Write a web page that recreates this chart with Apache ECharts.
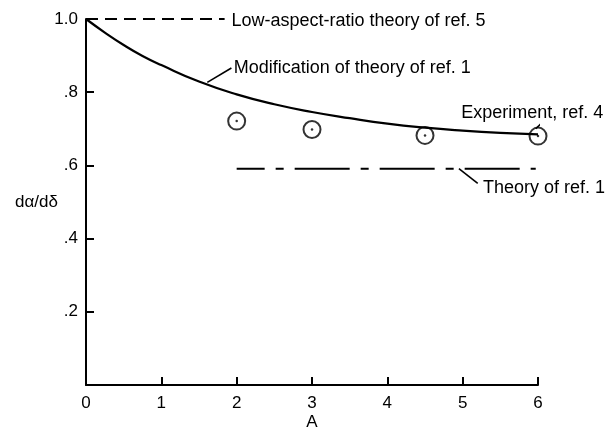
<!DOCTYPE html>
<html>
<head>
<meta charset="utf-8">
<script src="https://cdn.jsdelivr.net/npm/echarts@6/dist/echarts.min.js"></script>
<style>html,body{margin:0;padding:0;background:#fff}#c{width:610px;height:429px}</style>
</head>
<body>
<div id="c"></div>
<script>
// ---- data ----
const xTicks = [0, 1, 2, 3, 4, 5, 6];
const yTickLabels = {0: '', 0.2: '.2', 0.4: '.4', 0.6: '.6', 0.8: '.8', 1: '1.0'};
const modA = [0, 0.25, 0.5, 0.75, 1, 1.5, 2, 2.5, 3, 3.5, 4, 4.5, 5, 5.5, 6];
const modV = [1.0, 0.963, 0.929, 0.899, 0.874, 0.829, 0.794, 0.767, 0.746, 0.729, 0.714, 0.703, 0.695, 0.689, 0.685];
const lowAspectA = [0, 1.84];
const lowAspectV = [1.0, 1.0];
const theory1A = [2, 5.97];
const theory1V = [0.591, 0.591];
const expA = [2, 3, 4.5, 6];
const expV = [0.721, 0.698, 0.682, 0.680];
const labels = [
  {text: 'Low-aspect-ratio theory of ref. 5', at: [1.93, 0.995]},
  {text: 'Modification of theory of ref. 1', at: [1.96, 0.866]},
  {text: 'Experiment, ref. 4', at: [4.98, 0.743]},
  {text: 'Theory of ref. 1', at: [5.27, 0.538]}
];
const leaders = [
  [[1.61, 0.827], [1.93, 0.866]],
  [[5.97, 0.700], [6.08, 0.722]],
  [[4.95, 0.591], [5.2, 0.551]]
];

const FONT = 'Liberation Sans';
const chart = echarts.init(document.getElementById('c'), null, {renderer: 'canvas'});
const zip = (a, b) => a.map((v, i) => [v, b[i]]);

const series = [
  {type: 'line', data: zip(modA, modV), smooth: true, showSymbol: false,
   lineStyle: {color: '#000', width: 2.2}, silent: true, z: 3},
  {type: 'line', data: zip(lowAspectA, lowAspectV), showSymbol: false,
   lineStyle: {color: '#000', width: 2, type: [12, 7]}, silent: true},
  {type: 'line', data: zip(theory1A, theory1V), showSymbol: false,
   lineStyle: {color: '#000', width: 2, type: [55, 11, 8, 11], dashOffset: 27}, silent: true},
  {type: 'scatter', data: zip(expA, expV), symbol: 'circle', symbolSize: 17,
   itemStyle: {color: 'rgba(255,255,255,0)', borderColor: '#000', borderWidth: 2}, silent: true, z: 4},
  {type: 'scatter', data: zip(expA, expV), symbol: 'circle', symbolSize: 2.5,
   itemStyle: {color: '#000'}, silent: true, z: 5}
];
leaders.forEach(l => series.push({type: 'line', data: l, showSymbol: false,
  lineStyle: {color: '#000', width: 1.6}, silent: true}));

chart.setOption({
  animation: false,
  backgroundColor: '#fff',
  grid: {left: 86, right: 72, top: 19, bottom: 44, containLabel: false, outerBoundsMode: 'none'},
  xAxis: {
    type: 'value', min: 0, max: 6, interval: 1,
    name: 'A', nameLocation: 'middle', nameGap: 29, nameMoveOverlap: false,
    nameTextStyle: {color: '#000', fontFamily: FONT, fontSize: 17},
    axisLine: {show: true, lineStyle: {color: '#000', width: 2}},
    axisTick: {show: true, inside: true, length: 8, lineStyle: {color: '#000', width: 2}},
    axisLabel: {color: '#000', fontFamily: FONT, fontSize: 17, margin: 10},
    splitLine: {show: false}
  },
  yAxis: {
    type: 'value', min: 0, max: 1, interval: 0.2,
    name: 'dα/dδ', nameLocation: 'middle', nameRotate: 0, nameGap: 28, nameMoveOverlap: false,
    nameTextStyle: {color: '#000', fontFamily: FONT, fontSize: 17},
    axisLine: {show: true, lineStyle: {color: '#000', width: 2}},
    axisTick: {show: true, inside: true, length: 8, lineStyle: {color: '#000', width: 2}},
    axisLabel: {color: '#000', fontFamily: FONT, fontSize: 17, margin: 8,
      formatter: v => yTickLabels[Math.round(v * 10) / 10] ?? ''},
    splitLine: {show: false}
  },
  series: series
});

const g = labels.map(l => {
  const p = chart.convertToPixel({gridIndex: 0}, l.at);
  return {type: 'text', x: p[0], y: p[1],
    style: {text: l.text, fill: '#000', font: '18px ' + FONT, textAlign: 'left', textVerticalAlign: 'middle'}};
});
chart.setOption({graphic: g});
</script>
</body>
</html>
